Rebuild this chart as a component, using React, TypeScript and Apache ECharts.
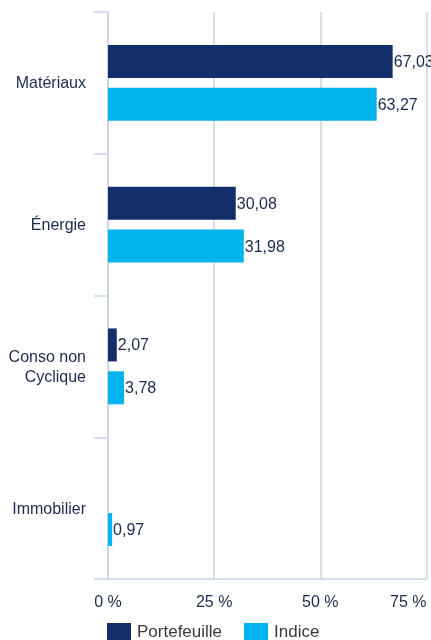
import React, { useEffect, useRef } from "react";
import * as echarts from "echarts";

const categories = ["Matériaux", "Énergie", "Conso non\nCyclique", "Immobilier"];
const portefeuille: (number | null)[] = [67.03, 30.08, 2.07, null];
const indice: (number | null)[] = [63.27, 31.98, 3.78, 0.97];
const seriesNames = ["Portefeuille", "Indice"];
const xTicks = { min: 0, max: 75, interval: 25 };

const NAVY = "#132e68";
const CYAN = "#00b5ec";
const TEXT = "#1b2a4e";
const LINE = "#c8d5e4";
const FONT = "Liberation Sans, Arial, Helvetica, sans-serif";

export default function App() {
  const ref = useRef<HTMLDivElement>(null);
  useEffect(() => {
    document.documentElement.style.overflow = "hidden";
    document.body.style.margin = "0";
    document.body.style.overflow = "hidden";
    if (!ref.current) return;
    const chart = echarts.init(ref.current, undefined, { renderer: "svg" });
    const fmt = (p: any) =>
      p.value == null ? "" : Number(p.value).toFixed(2).replace(".", ",");
    chart.setOption({
      animation: false,
      textStyle: { fontFamily: FONT },
      grid: {
        left: 108,
        right: 4.5,
        top: 12,
        bottom: 61,
        containLabel: false,
        outerBoundsMode: "none",
      },
      legend: {
        data: seriesNames,
        left: 107,
        top: 623,
        padding: 0,
        itemWidth: 24,
        itemHeight: 17,
        itemGap: 22,
        icon: "rect",
        textStyle: {
          fontSize: 17,
          lineHeight: 14,
          color: "#3a3a3a",
          fontFamily: FONT,
          padding: [0, 0, 0, 1],
        },
      },
      xAxis: {
        type: "value",
        min: xTicks.min,
        max: xTicks.max,
        interval: xTicks.interval,
        axisLine: { show: true, lineStyle: { color: LINE, width: 1.5 } },
        axisTick: { show: false },
        splitLine: { show: true, lineStyle: { color: LINE, width: 1.5 } },
        axisLabel: {
          formatter: "{value} %",
          color: TEXT,
          fontSize: 16,
          margin: 14,
          fontFamily: FONT,
          alignMaxLabel: "right",
        },
      },
      yAxis: {
        type: "category",
        data: categories,
        inverse: true,
        axisLine: { show: true, lineStyle: { color: LINE, width: 1.5 } },
        axisTick: { show: true, length: 14, lineStyle: { color: LINE, width: 1.5 } },
        splitLine: { show: false },
        axisLabel: {
          color: TEXT,
          fontSize: 16,
          margin: 22,
          lineHeight: 20,
          align: "right",
          fontFamily: FONT,
        },
      },
      series: [
        {
          name: seriesNames[0],
          type: "bar",
          data: portefeuille,
          barWidth: 33,
          barGap: "30%",
          itemStyle: { color: NAVY },
          label: {
            show: true,
            position: "right",
            distance: 1,
            color: TEXT,
            fontSize: 16,
            fontFamily: FONT,
            formatter: fmt,
          },
        },
        {
          name: seriesNames[1],
          type: "bar",
          data: indice,
          barWidth: 33,
          barGap: "30%",
          itemStyle: { color: CYAN },
          label: {
            show: true,
            position: "right",
            distance: 1,
            color: TEXT,
            fontSize: 16,
            fontFamily: FONT,
            formatter: fmt,
          },
        },
      ],
    });
    return () => chart.dispose();
  }, []);
  return (
    <div
      ref={ref}
      style={{ position: "fixed", left: 0, top: 0, width: 431, height: 640 }}
    />
  );
}
